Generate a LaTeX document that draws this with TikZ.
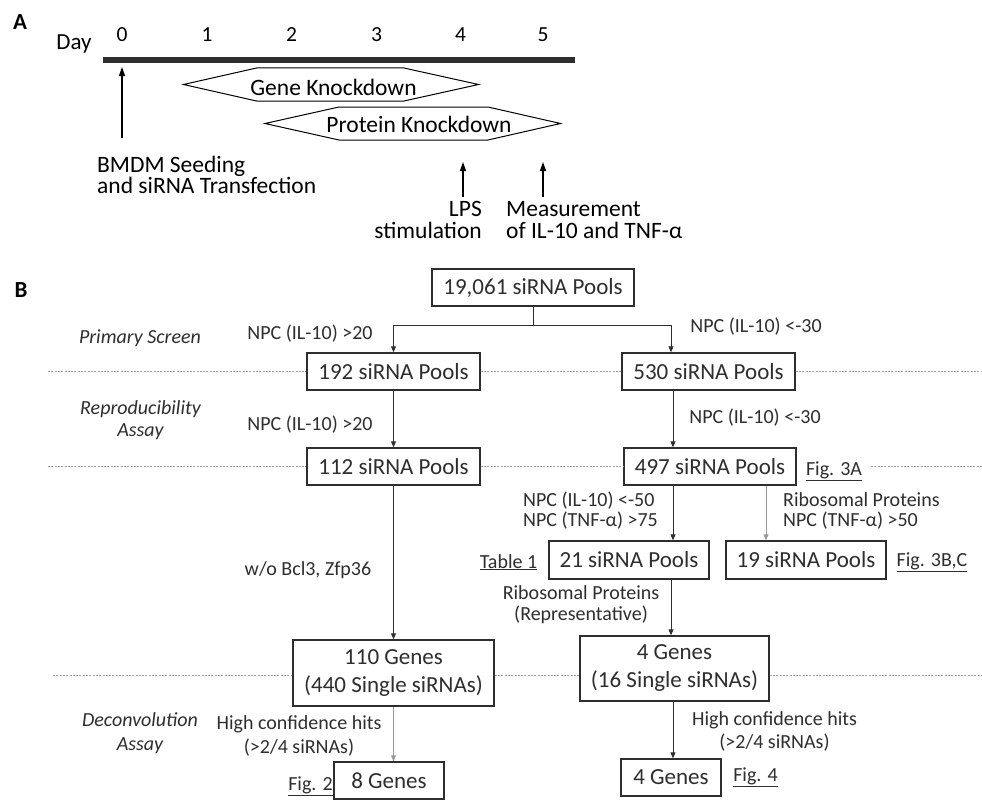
\documentclass[tikz,border=0pt]{standalone}
\usepackage{fontspec}
\setmainfont{Carlito}
\usetikzlibrary{arrows.meta,calc}
\definecolor{ink}{HTML}{2E2E2E}
\definecolor{lgray}{HTML}{999999}
\definecolor{dotc}{HTML}{A0A0A0}
\begin{document}
\begin{tikzpicture}[x=1pt,y=-1pt,
  boxn/.style={draw=ink, line width=1.4pt, text=ink, inner sep=0pt, align=center,
    font=\fontsize{23}{28}\selectfont},
  lab/.style={text=ink, inner sep=0pt, font=\fontsize{20}{20}\selectfont},
  labi/.style={text=ink, inner sep=0pt, font=\fontsize{20}{21.5}\selectfont\itshape},
  arr/.style={draw=ink, line width=0.9pt, -{Triangle[length=6pt,width=5pt]}},
  arrg/.style={arr, draw=lgray},
  dotl/.style={draw=dotc, line width=0.8pt, dash pattern=on 2pt off 1.3pt},
  arrA/.style={draw=black, line width=1.3pt, -{Triangle[length=9pt,width=6pt]}},
  hexl/.style={draw=black, line width=1pt},
  txtA/.style={inner sep=0pt, font=\fontsize{23.5}{16}\selectfont},
  dayf/.style={inner sep=0pt, font=\fontsize{21.5}{21.5}\selectfont},
  panel/.style={inner sep=0pt, font=\fontsize{23}{23}\selectfont\bfseries},
]
\fill[white] (0,0) rectangle (982,800);
\useasboundingbox (0,0) rectangle (982,800);

% ---------------- Panel A ----------------
\node[panel, anchor=base] (pA) at (20,30) {A};
\node[dayf, anchor=base, font=\fontsize{23}{23}\selectfont] (day) at (74,50) {Day};
\node[dayf, anchor=base] (d0) at (122,42) {0};
\node[dayf, anchor=base] (d1) at (207,42) {1};
\node[dayf, anchor=base] (d2) at (291.5,42) {2};
\node[dayf, anchor=base] (d3) at (376.5,42) {3};
\node[dayf, anchor=base] (d4) at (460.5,42) {4};
\node[dayf, anchor=base] (d5) at (543,42) {5};
\coordinate (tlL) at (103,60);
\coordinate (tlR) at (575,60);
\draw[draw=ink, line width=5.3pt] (tlL) -- (tlR);

% hexagons
\draw[hexl] (183.5,84.5) -- (256.5,68) -- (404,68) -- (478.5,84.5) -- (404,101) -- (256.5,101) -- cycle;
\node[txtA, anchor=base] (gk) at (333.5,95) {Gene Knockdown};
\draw[hexl] (265,123.5) -- (339,107) -- (488,107) -- (560.5,123.5) -- (488,140) -- (339,140) -- cycle;
\node[txtA, anchor=base] (pk) at (419,132) {Protein Knockdown};

% arrows and texts
\node[txtA, align=left, anchor=north west] (bmdm) at (97,155.5) {BMDM Seeding\\and siRNA Transfection};
\coordinate (a0s) at (122,138);
\coordinate (a0e) at (122,67);
\draw[arrA] (a0s) -- (a0e);
\node[txtA, align=right, anchor=north east, font=\fontsize{23.5}{21.5}\selectfont] (lps) at (482,201.5) {LPS\\stimulation};
\coordinate (a4s) at (463,197);
\coordinate (a4e) at (463,162);
\draw[arrA] (a4s) -- (a4e);
\node[txtA, align=left, anchor=north west, font=\fontsize{23.5}{21.5}\selectfont] (meas) at (506,201.5) {Measurement\\of IL-10 and TNF-α};
\coordinate (a5s) at (543,197);
\coordinate (a5e) at (543,162);
\draw[arrA] (a5s) -- (a5e);

% ---------------- Panel B ----------------
\node[panel, anchor=base] (pB) at (21,297) {B};

\node[boxn, minimum width=202pt, minimum height=37pt] (b19061) at (533,287.5) {19,061 siRNA Pools};
\node[boxn, minimum width=173pt, minimum height=37pt] (b192) at (393.5,371.5) {192 siRNA Pools};
\node[boxn, minimum width=173pt, minimum height=37pt] (b530) at (708.5,371.5) {530 siRNA Pools};
\node[boxn, minimum width=173pt, minimum height=37pt] (b112) at (393.5,466.5) {112 siRNA Pools};
\node[boxn, minimum width=172pt, minimum height=37pt] (b497) at (710,466.5) {497 siRNA Pools};
\node[boxn, minimum width=160pt, minimum height=38pt] (b21) at (629,560) {21 siRNA Pools};
\node[boxn, minimum width=160pt, minimum height=38pt] (b19) at (806,560) {19 siRNA Pools};
\node[boxn, minimum width=201pt, minimum height=66pt] (b110) at (393.5,673) {110 Genes\\(440 Single siRNAs)};
\node[boxn, minimum width=189pt, minimum height=65pt] (b4g) at (674.5,668.5) {4 Genes\\(16 Single siRNAs)};
\node[boxn, minimum width=110pt, minimum height=37pt] (b8) at (389,780.5) {8 Genes};
\node[boxn, minimum width=100pt, minimum height=37pt] (b4) at (671,777.5) {4 Genes};

% dotted stage separators
\coordinate (r1s) at (48,371.5);
\coordinate (r1e) at (982,371.5);
\draw[dotl] (r1s) -- (b192.west);
\draw[dotl] (b192.east) -- (b530.west);
\draw[dotl] (b530.east) -- (r1e);
\coordinate (r2s) at (48,466.5);
\coordinate (r2m) at (871,466.5);
\coordinate (r2e) at (982,466.5);
\draw[dotl] (r2s) -- (b112.west);
\draw[dotl] (b112.east) -- (b497.west);
\draw[dotl] (r2m) -- (r2e);
\coordinate (r3s) at (53,675);
\coordinate (r3e) at (982,675);
\draw[dotl] (r3s) -- (r3s -| b110.west);
\draw[dotl] (b110.east |- r3s) -- (b4g.west |- r3s);
\draw[dotl] (b4g.east |- r3s) -- (r3e);

% connectors
\coordinate (j) at (533,325);
\coordinate (jr) at (671,325);
\draw[arr] (b19061.south) -- (j) -| (b192.north);
\draw[arr] (j) -- (jr) -- (jr |- b530.north);
\draw[arr] (b192.south) -- (b112.north);
\coordinate (c1) at ($(b530.south)+(-35.5,0)$);
\draw[arr] (c1) -- (c1 |- b497.north);
\draw[arr] (b112.south) -- (b110.north);
\coordinate (c2) at ($(b497.south)+(-37,0)$);
\draw[arr] (c2) -- (c2 |- b21.north);
\coordinate (c3) at ($(b497.south)+(56,0)$);
\draw[arrg] (c3) -- (c3 |- b19.north);
\coordinate (c4) at ($(b21.south)+(42,0)$);
\draw[arr] (c4) -- (c4 |- b4g.north);
\coordinate (c5) at (b110.south);
\draw[arrg] (c5) -- (c5 |- b8.north);
\coordinate (c6) at ($(b4g.south)+(-1.5,0)$);
\draw[arr] (c6) -- (c6 |- b4.north);

% stage names
\node[labi, anchor=base] (ps) at (140,343) {Primary Screen};
\node[labi, align=center, anchor=north] (ra) at (140.5,400.8) {Reproducibility\\Assay};
\node[labi, align=center, anchor=north, font=\fontsize{20}{24}\selectfont\itshape] (da) at (140,712.8) {Deconvolution\\Assay};

% criteria labels
\node[lab, anchor=base] (l1) at (310,339) {NPC (IL-10) >20};
\node[lab, anchor=base] (l2) at (756,332) {NPC (IL-10) <-30};
\node[lab, anchor=base] (l3) at (310,430) {NPC (IL-10) >20};
\node[lab, anchor=base] (l4) at (755,423) {NPC (IL-10) <-30};
\node[lab, align=left, anchor=north west] (l5) at (523,491.7) {NPC (IL-10) <-50\\NPC (TNF-α) >75};
\node[lab, align=left, anchor=north west] (l6) at (783,492.3) {Ribosomal Proteins\\NPC (TNF-α) >50};
\node[lab, anchor=base] (l7) at (308,575) {w/o Bcl3, Zfp36};
\node[lab, align=center, anchor=north, font=\fontsize{20}{21}\selectfont] (l8) at (581,585.8) {Ribosomal Proteins\\(Representative)};
\node[lab, align=center, anchor=north, font=\fontsize{20}{24}\selectfont] (l9) at (299,715.8) {High confidence hits\\(>2/4 siRNAs)};
\node[lab, align=center, anchor=north, font=\fontsize{20}{23}\selectfont] (l10) at (774.5,711.8) {High confidence hits\\(>2/4 siRNAs)};

% figure references
\node[lab, anchor=base] (f3a) at (834,475) {\underline{Fig. 3A}};
\node[lab, anchor=base] (t1) at (508.5,568) {\underline{Table 1}};
\node[lab, anchor=base] (f3bc) at (932,566) {\underline{Fig. 3B,C}};
\node[lab, anchor=base] (f2) at (310.5,790.7) {\underline{Fig. 2}};
\node[lab, anchor=base] (f4) at (755.5,781) {\underline{Fig. 4}};
\end{tikzpicture}
\end{document}
